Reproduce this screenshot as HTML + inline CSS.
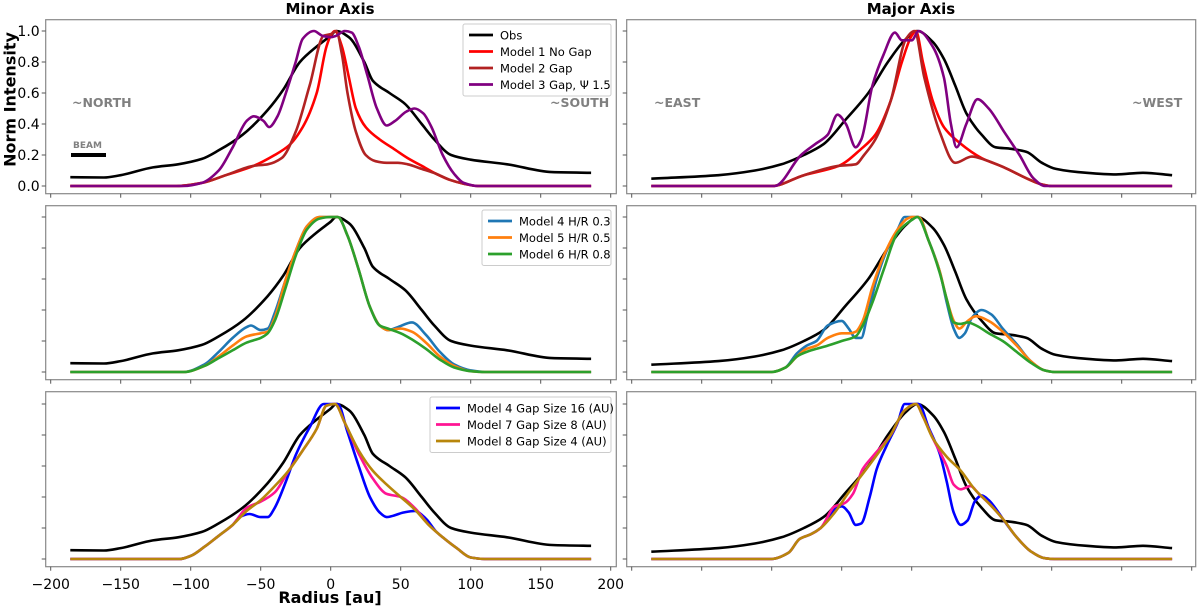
<!DOCTYPE html>
<html><head><meta charset="utf-8">
<style>
body{margin:0;background:#fff;}
svg{display:block;font-family:"DejaVu Sans","Liberation Sans",sans-serif;}
</style></head>
<body>
<svg id="fig" width="1200" height="609" viewBox="0 0 1200 609"></svg>
<script>
// ---------- data (radius in au, normalized intensity) ----------
const obsMinorR = [-186,-162,-150,-127,-109,-92,-80,-63,-45,-34,-22,-10,0,4,13,24,30,42,53,65,74,86,100,126,158,186];
const obsMinorV = [0.057,0.055,0.07,0.12,0.14,0.175,0.23,0.33,0.49,0.62,0.80,0.9,0.97,1.0,0.96,0.8,0.68,0.6,0.53,0.4,0.3,0.2,0.17,0.14,0.09,0.085];
const obsMajorR = [-186,-138,-112,-93,-77,-63,-47,-31,-17,-4,4,15,23,31,39,50,60,71,82,93,103,125,146,165,186];
const obsMajorV = [0.047,0.07,0.1,0.14,0.2,0.27,0.43,0.6,0.8,0.95,1.0,0.93,0.82,0.65,0.47,0.33,0.25,0.24,0.22,0.15,0.11,0.085,0.075,0.085,0.07];

const m1MinR = [-186,-110,-92,-75,-55,-40,-30,-20,-10,-3,0,3,8,13,18,25,35,45,55,65,75,85,95,105,186];
const m1MinV = [0,0,0.02,0.07,0.13,0.2,0.26,0.38,0.6,0.9,0.97,1.0,0.9,0.7,0.5,0.38,0.3,0.24,0.18,0.13,0.08,0.04,0.015,0,0];
const m2MinR = [-186,-110,-92,-75,-55,-45,-35,-25,-15,-5,0,4,8,12,18,25,32,40,48,55,65,75,85,95,105,186];
const m2MinV = [0,0,0.02,0.07,0.13,0.14,0.18,0.35,0.65,0.97,0.98,1.0,0.85,0.6,0.35,0.2,0.16,0.15,0.15,0.14,0.11,0.08,0.04,0.015,0,0];
const m3MinR = [-186,-105,-92,-80,-70,-60,-55,-48,-44,-38,-32,-25,-20,-12,-6,0,4,10,15,20,26,33,40,46,54,60,66,72,80,88,95,105,186];
const m3MinV = [0,0,0.02,0.1,0.25,0.42,0.45,0.42,0.38,0.45,0.6,0.8,0.95,1.0,0.97,0.96,0.97,1.0,0.99,0.9,0.72,0.5,0.39,0.42,0.48,0.5,0.47,0.38,0.2,0.08,0.02,0,0];

const m1MajR = [-186,-100,-77,-52,-36,-26,-15,-7,0,3,8,15,23,34,50,66,82,93,100,186];
const m1MajV = [0,0,0.07,0.13,0.24,0.33,0.55,0.8,0.97,1.0,0.8,0.55,0.38,0.28,0.18,0.12,0.05,0.01,0,0];
const m2MajR = [-186,-100,-77,-52,-40,-34,-26,-15,-4,2,9,20,31,43,52,66,82,93,100,186];
const m2MajV = [0,0,0.07,0.13,0.14,0.2,0.3,0.55,0.95,1.0,0.7,0.35,0.15,0.19,0.17,0.12,0.05,0.01,0,0];
const m3MajR = [-186,-98,-79,-69,-60,-53,-47,-40,-36,-28,-20,-12,-7,0,5,15,23,28,32,39,47,55,66,77,87,95,186];
const m3MajV = [0,0,0.2,0.27,0.33,0.46,0.4,0.25,0.3,0.65,0.85,0.99,0.94,0.94,1.0,0.9,0.7,0.4,0.25,0.4,0.56,0.5,0.35,0.2,0.05,0,0];

const m4MinR = [-186,-105,-90,-80,-70,-60,-57,-50,-45,-40,-32,-25,-17,-8,0,5,12,20,28,35,41,48,58,68,78,88,100,110,186];
const m4MinV = [0,0,0.05,0.13,0.22,0.29,0.3,0.27,0.28,0.38,0.6,0.78,0.94,1.0,1.0,1.0,0.88,0.66,0.42,0.3,0.27,0.29,0.32,0.24,0.13,0.05,0.01,0,0];
const m5MinR = [-186,-105,-90,-80,-70,-60,-50,-45,-40,-32,-25,-17,-8,0,5,12,20,28,35,41,50,58,68,78,88,100,110,186];
const m5MinV = [0,0,0.04,0.1,0.17,0.23,0.25,0.26,0.35,0.6,0.78,0.94,1.0,1.0,1.0,0.88,0.66,0.42,0.3,0.27,0.28,0.26,0.19,0.1,0.04,0.005,0,0];
const m6MinR = [-186,-105,-90,-80,-70,-60,-50,-45,-40,-32,-25,-17,-8,0,5,12,20,28,35,41,50,58,68,78,88,100,110,186];
const m6MinV = [0,0,0.04,0.09,0.14,0.19,0.22,0.25,0.33,0.55,0.75,0.92,0.99,1.0,1.0,0.88,0.66,0.42,0.3,0.28,0.25,0.21,0.15,0.08,0.03,0.005,0,0];

const m4MajR = [-186,-100,-90,-82,-75,-68,-60,-50,-45,-40,-36,-32,-25,-18,-10,-5,0,5,12,20,25,30,34,38,43,50,57,65,75,85,95,102,186];
const m4MajV = [0,0,0.03,0.12,0.17,0.2,0.3,0.33,0.28,0.22,0.22,0.35,0.6,0.78,0.92,1.0,1.0,1.0,0.85,0.65,0.45,0.28,0.22,0.25,0.35,0.4,0.37,0.28,0.18,0.07,0.01,0,0];
const m5MajR = [-186,-100,-90,-82,-75,-68,-60,-50,-44,-40,-35,-28,-20,-10,-3,0,5,12,20,25,30,34,40,46,55,65,75,85,95,102,186];
const m5MajV = [0,0,0.03,0.1,0.15,0.17,0.22,0.25,0.25,0.26,0.33,0.55,0.75,0.92,0.99,1.0,1.0,0.85,0.65,0.47,0.33,0.28,0.33,0.36,0.33,0.26,0.17,0.07,0.01,0,0];
const m6MajR = [-186,-100,-90,-82,-75,-68,-60,-50,-40,-35,-28,-20,-10,0,4,12,20,25,30,35,40,46,55,65,75,85,95,102,186];
const m6MajV = [0,0,0.03,0.1,0.13,0.15,0.17,0.2,0.23,0.3,0.45,0.66,0.9,0.98,1.0,0.85,0.64,0.47,0.32,0.31,0.32,0.3,0.25,0.2,0.13,0.06,0.01,0,0];

const m8MinR = [-186,-108,-100,-90,-80,-70,-60,-50,-40,-30,-20,-10,-3,3,10,20,30,40,50,60,70,80,90,100,110,186];
const m8MinV = [0,0,0.02,0.08,0.15,0.22,0.31,0.38,0.47,0.57,0.7,0.84,0.99,1.0,0.88,0.7,0.57,0.48,0.4,0.32,0.22,0.14,0.07,0.01,0,0];
const m7MinR = [-186,-108,-100,-90,-80,-70,-60,-50,-40,-30,-20,-10,-3,3,10,20,30,40,50,60,70,80,90,100,110,186];
const m7MinV = [0,0,0.02,0.08,0.15,0.22,0.33,0.37,0.43,0.57,0.7,0.84,0.99,1.0,0.88,0.68,0.52,0.42,0.4,0.33,0.22,0.14,0.07,0.01,0,0];
const m4gMinR = [-186,-108,-100,-90,-80,-70,-65,-58,-50,-45,-40,-32,-25,-15,-5,0,5,12,20,28,35,40,45,52,60,68,75,80,90,100,110,186];
const m4gMinV = [0,0,0.02,0.08,0.15,0.22,0.27,0.29,0.27,0.27,0.33,0.5,0.67,0.85,1.0,1.0,1.0,0.82,0.6,0.4,0.3,0.27,0.28,0.3,0.31,0.26,0.18,0.14,0.07,0.01,0,0];

const m8MajR = [-186,-100,-88,-80,-72,-65,-55,-45,-35,-25,-15,-5,3,8,15,25,35,45,55,65,75,85,95,102,186];
const m8MajV = [0,0,0.04,0.13,0.16,0.2,0.3,0.43,0.55,0.67,0.8,0.96,1.0,0.92,0.78,0.66,0.57,0.45,0.36,0.26,0.14,0.05,0.005,0,0];
const m7MajR = [-186,-100,-88,-80,-72,-65,-55,-48,-42,-35,-28,-15,-5,3,8,15,25,30,35,42,48,55,65,75,85,95,102,186];
const m7MajV = [0,0,0.04,0.13,0.16,0.2,0.34,0.36,0.42,0.58,0.66,0.8,0.96,1.0,0.92,0.78,0.6,0.48,0.45,0.47,0.42,0.36,0.26,0.14,0.05,0.005,0,0];
const m4gMajR = [-186,-100,-88,-80,-72,-65,-55,-50,-45,-40,-36,-30,-25,-18,-10,-5,0,5,12,20,25,30,35,40,45,50,55,62,65,75,85,95,102,186];
const m4gMajV = [0,0,0.04,0.13,0.16,0.2,0.32,0.34,0.3,0.22,0.23,0.4,0.58,0.73,0.88,1.0,1.0,1.0,0.85,0.68,0.5,0.3,0.22,0.25,0.37,0.41,0.38,0.3,0.26,0.14,0.05,0.005,0,0];

const xTicks = [-200,-150,-100,-50,0,50,100,150,200];
const xTickLabels = ["\u2212200","\u2212150","\u2212100","\u221250","0","50","100","150","200"];
const yTicks = [0,0.2,0.4,0.6,0.8,1.0];
const yTickLabels = ["0.0","0.2","0.4","0.6","0.8","1.0"];

// ---------- layout ----------
const NS="http://www.w3.org/2000/svg";
const svg=document.getElementById('fig');
function mk(tag,attrs,parent){const e=document.createElementNS(NS,tag);for(const k in attrs)e.setAttribute(k,attrs[k]);(parent||svg).appendChild(e);return e;}
const cols=[{left:45.7,right:616.3,x0:330.7},{left:626.7,right:1195.7,x0:911.7}];
const rows=[{top:19.7,bottom:193.7},{top:205.7,bottom:379.7},{top:391.7,bottom:566.7}];
const SC=1.4, YS=155;
function xs(c,v){return cols[c].x0+v*SC;}
function ys(r,v){return rows[r].bottom-7.7-v*YS;}
// monotone cubic (Fritsch-Carlson) path in pixel space
function pathFrom(c,r,R,V){
  const X=R.map(v=>xs(c,v)), Y=V.map(v=>ys(r,v)), n=X.length;
  const d=[],m=new Array(n);
  for(let i=0;i<n-1;i++) d.push((Y[i+1]-Y[i])/(X[i+1]-X[i]));
  m[0]=d[0]; m[n-1]=d[n-2];
  for(let i=1;i<n-1;i++){
    if(d[i-1]*d[i]<=0) m[i]=0;
    else{const w1=2*(X[i+1]-X[i])+(X[i]-X[i-1]), w2=(X[i+1]-X[i])+2*(X[i]-X[i-1]);
      m[i]=(w1+w2)/(w1/d[i-1]+w2/d[i]);}
  }
  let s='M'+X[0].toFixed(1)+','+Y[0].toFixed(1);
  for(let i=0;i<n-1;i++){
    const h=(X[i+1]-X[i])/3;
    s+=' C'+(X[i]+h).toFixed(1)+','+(Y[i]+m[i]*h).toFixed(1)+' '+(X[i+1]-h).toFixed(1)+','+(Y[i+1]-m[i+1]*h).toFixed(1)+' '+X[i+1].toFixed(1)+','+Y[i+1].toFixed(1);
  }
  return s;
}
const panels=[
 {c:0,r:0,name:'minor-axis-gap-panel',series:[['obs',obsMinorR,obsMinorV,'#000'],['model-1',m1MinR,m1MinV,'#ff0000'],['model-2',m2MinR,m2MinV,'#b22222'],['model-3',m3MinR,m3MinV,'#800080']]},
 {c:1,r:0,name:'major-axis-gap-panel',series:[['obs',obsMajorR,obsMajorV,'#000'],['model-1',m1MajR,m1MajV,'#ff0000'],['model-2',m2MajR,m2MajV,'#b22222'],['model-3',m3MajR,m3MajV,'#800080']]},
 {c:0,r:1,name:'minor-axis-hr-panel',series:[['obs',obsMinorR,obsMinorV,'#000'],['model-4',m4MinR,m4MinV,'#1f77b4'],['model-5',m5MinR,m5MinV,'#ff7f0e'],['model-6',m6MinR,m6MinV,'#2ca02c']]},
 {c:1,r:1,name:'major-axis-hr-panel',series:[['obs',obsMajorR,obsMajorV,'#000'],['model-4',m4MajR,m4MajV,'#1f77b4'],['model-5',m5MajR,m5MajV,'#ff7f0e'],['model-6',m6MajR,m6MajV,'#2ca02c']]},
 {c:0,r:2,name:'minor-axis-gapsize-panel',series:[['obs',obsMinorR,obsMinorV,'#000'],['model-4-gap16',m4gMinR,m4gMinV,'#0000ff'],['model-7',m7MinR,m7MinV,'#ff1493'],['model-8',m8MinR,m8MinV,'#b8860b']]},
 {c:1,r:2,name:'major-axis-gapsize-panel',series:[['obs',obsMajorR,obsMajorV,'#000'],['model-4-gap16',m4gMajR,m4gMajV,'#0000ff'],['model-7',m7MajR,m7MajV,'#ff1493'],['model-8',m8MajR,m8MajV,'#b8860b']]}
];
panels.forEach(P=>{
  const C=cols[P.c],R=rows[P.r];
  const g=mk('g',{});
  
  
  const fr=mk('rect',{x:C.left,y:R.top,width:C.right-C.left,height:R.bottom-R.top,fill:'#fff',stroke:'#888','stroke-width':1.2},g);
  
  
  xTicks.forEach((t,i)=>{
    const x=xs(P.c,t);
    if(x<=C.right+0.5){
      const tk=mk('line',{x1:x,x2:x,y1:R.bottom,y2:R.bottom+4,stroke:'#555','stroke-width':1},g);
      
      
      if(P.r===2&&P.c===0){
        const tl=mk('text',{x:x,y:589,'text-anchor':'middle','font-size':14,fill:'#000'},g);
        tl.textContent=xTickLabels[i];
        
        
      }
    }
  });
  yTicks.forEach((t,i)=>{
    const y=ys(P.r,t);
    const tk=mk('line',{x1:C.left-4,x2:C.left,y1:y,y2:y,stroke:'#555','stroke-width':1},g);
    
    
    if(P.r===0&&P.c===0){
      const tl=mk('text',{x:C.left-6,y:y+5,'text-anchor':'end','font-size':14,fill:'#000'},g);
      tl.textContent=yTickLabels[i];
      
      
    }
  });
  P.series.forEach(s=>{
    const p=mk('path',{d:pathFrom(P.c,P.r,s[1],s[2]),fill:'none',stroke:s[3],'stroke-width':2.6,'stroke-linejoin':'round'},g);
    
    
  });
});
// legends
function legend(x,y,w,entries,name){
  const g=mk('g',{});
  
  
  const h=entries.length*16.5+6;
  mk('rect',{x:x,y:y,width:w,height:h,fill:'#fff',stroke:'#ccc','stroke-width':1,rx:2},g);
  entries.forEach((e,i)=>{
    const yy=y+11+i*16.5;
    mk('line',{x1:x+6,x2:x+30,y1:yy,y2:yy,stroke:e[1],'stroke-width':2.8},g);
    const t=mk('text',{x:x+37,y:yy+4.5,'font-size':11.5,fill:'#000'},g);
    t.textContent=e[0];
    
    
  });
}
legend(463,24,148,[['Obs','#000'],['Model 1 No Gap','#ff0000'],['Model 2 Gap','#b22222'],['Model 3 Gap, \u03A8 1.5','#800080']],'legend-gap');
legend(482,210,129,[['Model 4 H/R 0.3','#1f77b4'],['Model 5 H/R 0.5','#ff7f0e'],['Model 6 H/R 0.8','#2ca02c']],'legend-hr');
legend(430,397,181,[['Model 4 Gap Size 16 (AU)','#0000ff'],['Model 7 Gap Size 8 (AU)','#ff1493'],['Model 8 Gap Size 4 (AU)','#b8860b']],'legend-gapsize');
</script>
<div style="position:absolute;left:0;top:0;width:1200px;height:609px;pointer-events:none;font-family:'DejaVu Sans','Liberation Sans',sans-serif;">
  <div style="position:absolute;left:230px;top:0px;width:200px;text-align:center;font-weight:bold;font-size:15px;">Minor Axis</div>
  <div style="position:absolute;left:811px;top:0px;width:200px;text-align:center;font-weight:bold;font-size:15px;">Major Axis</div>
  <div style="position:absolute;left:-65px;top:90px;width:150px;text-align:center;font-weight:bold;font-size:16px;transform:rotate(-90deg);">Norm Intensity</div>
  <div style="position:absolute;left:230px;top:588px;width:200px;text-align:center;font-weight:bold;font-size:16px;">Radius [au]</div>
  <div style="position:absolute;left:72px;top:95px;color:#808080;font-weight:bold;font-size:12.5px;">~NORTH</div>
  <div style="position:absolute;left:550px;top:95px;color:#808080;font-weight:bold;font-size:12.5px;">~SOUTH</div>
  <div style="position:absolute;left:654px;top:95px;color:#808080;font-weight:bold;font-size:12.5px;">~EAST</div>
  <div style="position:absolute;left:1132px;top:95px;color:#808080;font-weight:bold;font-size:12.5px;">~WEST</div>
  <div style="position:absolute;left:73px;top:141px;color:#808080;font-weight:bold;font-size:9px;">BEAM</div>
  <div style="position:absolute;left:71px;top:153px;width:35px;height:4px;background:#000;"></div>
</div>
</body></html>
